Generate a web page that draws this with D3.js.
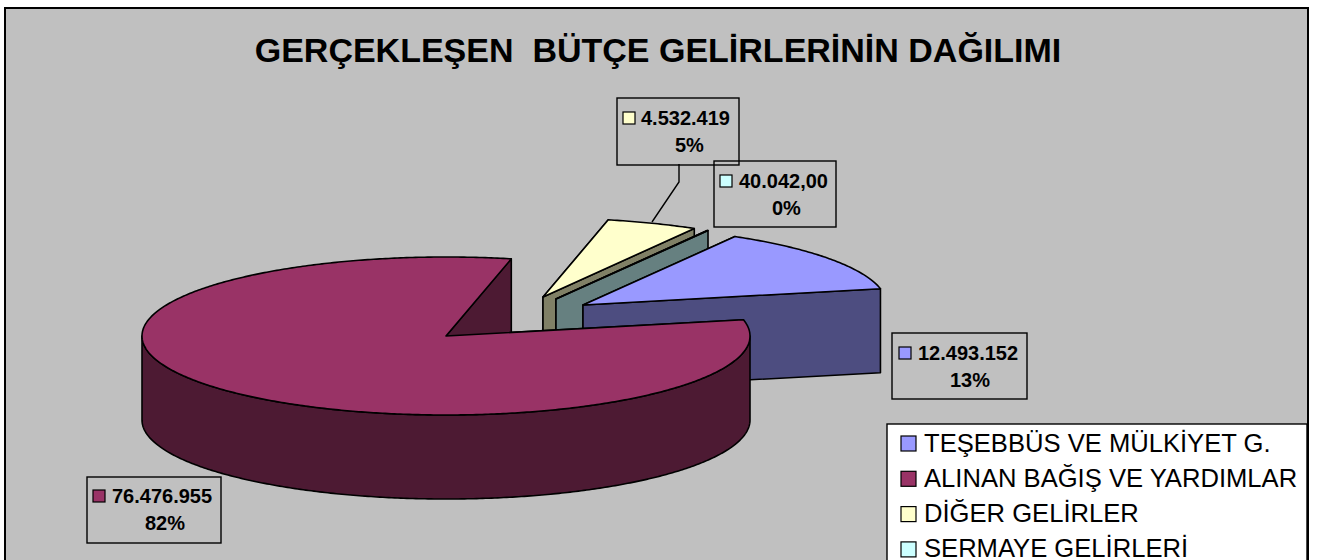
<!DOCTYPE html>
<html>
<head>
<meta charset="utf-8">
<script src="https://cdn.jsdelivr.net/npm/d3@7"></script>
<style>
  html, body { margin: 0; padding: 0; background: #fff; overflow: hidden; }
  text { font-family: "Liberation Sans", Arial, sans-serif; fill: #000; white-space: pre; }
</style>
</head>
<body>
<div id="chart"></div>
<script>
// chart data
const CATEGORIES = ["TEŞEBBÜS VE MÜLKİYET G.", "ALINAN BAĞIŞ VE YARDIMLAR", "DİĞER GELİRLER", "SERMAYE GELİRLERİ"];
const VALUES = [12493152, 76476955, 4532419, 40042];
const VALUE_LABELS = ["12.493.152", "76.476.955", "4.532.419", "40.042,00"];
const TITLE = "GERÇEKLEŞEN  BÜTÇE GELİRLERİNİN DAĞILIMI";

// colours
const TOP_COLORS = ["#9999FF", "#993366", "#FFFFCC", "#CCFFFF"];
const WALL_COLORS = ["#4D4D80", "#4D1A33", "#808066", "#668080"];

// layout
const FRAME_WIDTH = 1325;
const FRAME_HEIGHT = 560;
const RX = 304;
const RY = 79;
const DEPTH = 84;
const FIRST_ANGLE = Math.PI / 6;
const APEX = [[583, 305], [446, 336], [543, 297], [556, 299]];
const DRAW_ORDER = [2, 3, 0, 1];
const BOXES = [
  {x: 892, y: 333, w: 135, h: 66, sw: 899, tx: 918, py: 360, px: 950},
  {x: 87, y: 477, w: 134, h: 66, sw: 93, tx: 112, py: 503, px: 145},
  {x: 617, y: 98, w: 122, h: 67, sw: 623, tx: 641, py: 125, px: 675},
  {x: 714, y: 161, w: 122, h: 66, sw: 720, tx: 739, py: 188, px: 772}
];

const FRAME = d3.select("#chart")
                .append("svg")
                  .attr("width", FRAME_WIDTH)
                  .attr("height", FRAME_HEIGHT)
                  .style("display", "block");

FRAME.append("rect")
      .attr("x", 5).attr("y", 8)
      .attr("width", 1303).attr("height", 600)
      .attr("fill", "#C0C0C0")
      .attr("stroke", "#000")
      .attr("stroke-width", 2);

FRAME.append("text")
      .attr("x", 658).attr("y", 62)
      .attr("text-anchor", "middle")
      .attr("font-size", "34px")
      .attr("font-weight", "bold")
      .text(TITLE);

// pie angles, clockwise from north like d3.arc
const SLICES = d3.pie().sort(null)
                  .startAngle(FIRST_ANGLE)
                  .endAngle(FIRST_ANGLE + 2 * Math.PI)(VALUES);

const X_SCALE = d3.scaleLinear().domain([-1, 1]).range([-RX, RX]);
const Y_SCALE = d3.scaleLinear().domain([-1, 1]).range([RY, -RY]);
const LINE = d3.line();

function rim(apex, a, drop) {
  return [apex[0] + X_SCALE(Math.sin(a)), apex[1] + Y_SCALE(Math.cos(a)) + drop];
}

function arcPoints(apex, a0, a1, drop) {
  const pts = d3.range(a0, a1, 0.01).map((a) => rim(apex, a, drop));
  pts.push(rim(apex, a1, drop));
  return pts;
}

function drawShape(points, color) {
  FRAME.append("path")
        .attr("d", LINE(points) + "Z")
        .attr("fill", color)
        .attr("stroke", "#000")
        .attr("stroke-width", 1.6)
        .attr("stroke-linejoin", "round");
}

function radialWall(apex, a, color) {
  drawShape([apex, rim(apex, a, 0), rim(apex, a, DEPTH), [apex[0], apex[1] + DEPTH]], color);
}

// slices back to front
DRAW_ORDER.forEach((i) => {
  const s = SLICES[i];
  const apex = APEX[i];
  radialWall(apex, s.startAngle, WALL_COLORS[i]);
  radialWall(apex, s.endAngle, WALL_COLORS[i]);

  // only the front half of the rim shows a side wall
  const from = Math.max(s.startAngle, Math.PI / 2);
  const to = Math.min(s.endAngle, 3 * Math.PI / 2);
  if (from < to) {
    drawShape(arcPoints(apex, from, to, 0).concat(arcPoints(apex, from, to, DEPTH).reverse()), WALL_COLORS[i]);
  }

  drawShape([apex].concat(arcPoints(apex, s.startAngle, s.endAngle, 0)), TOP_COLORS[i]);
});

// leader line for the yellow label
FRAME.append("path")
      .attr("d", LINE([[679, 164], [679, 182], [652, 222]]))
      .attr("fill", "none")
      .attr("stroke", "#000")
      .attr("stroke-width", 1.4);

// data labels
const TOTAL = d3.sum(VALUES);
BOXES.forEach((b, i) => {
  FRAME.append("rect")
        .attr("x", b.x).attr("y", b.y)
        .attr("width", b.w).attr("height", b.h)
        .attr("fill", "none")
        .attr("stroke", "#000")
        .attr("stroke-width", 1.4);
  FRAME.append("rect")
        .attr("x", b.sw).attr("y", b.py - 13)
        .attr("width", 12).attr("height", 12)
        .attr("fill", TOP_COLORS[i])
        .attr("stroke", "#000")
        .attr("stroke-width", 1.2);
  FRAME.append("text")
        .attr("x", b.tx).attr("y", b.py)
        .attr("font-size", "20px")
        .attr("font-weight", "bold")
        .text(VALUE_LABELS[i]);
  FRAME.append("text")
        .attr("x", b.px).attr("y", b.py + 27)
        .attr("font-size", "20px")
        .attr("font-weight", "bold")
        .text(d3.format(".0%")(VALUES[i] / TOTAL));
});

// legend, runs off the bottom of the picture
FRAME.append("rect")
      .attr("x", 887).attr("y", 424)
      .attr("width", 420).attr("height", 200)
      .attr("fill", "#fff")
      .attr("stroke", "#000")
      .attr("stroke-width", 1.4);

CATEGORIES.forEach((c, i) => {
  FRAME.append("rect")
        .attr("x", 901).attr("y", 436 + i * 35.3)
        .attr("width", 15).attr("height", 15)
        .attr("fill", TOP_COLORS[i])
        .attr("stroke", "#000")
        .attr("stroke-width", 1.2);
  FRAME.append("text")
        .attr("x", 924).attr("y", 451.5 + i * 35.3)
        .attr("font-size", "25.6px")
        .text(c);
});
</script>
</body>
</html>
